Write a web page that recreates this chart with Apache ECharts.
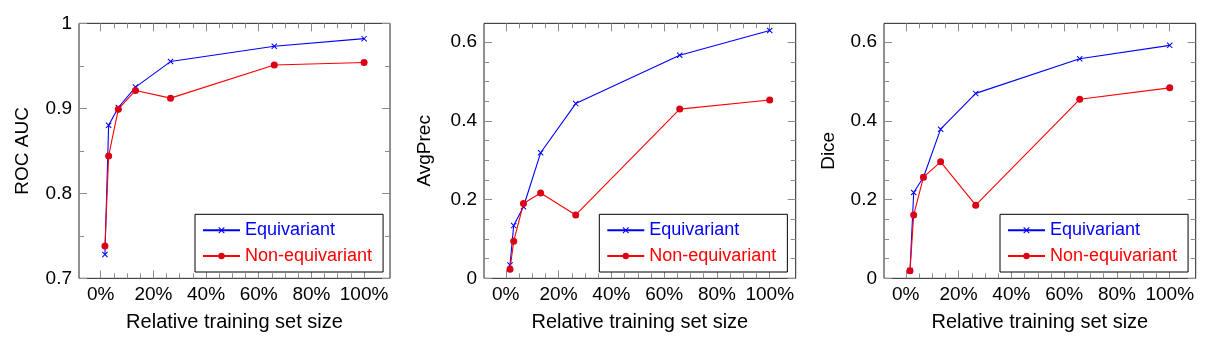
<!DOCTYPE html>
<html><head><meta charset="utf-8">
<script src="https://cdn.jsdelivr.net/npm/echarts@6/dist/echarts.min.js"></script>
<style>html,body{margin:0;padding:0;background:#fff}#c{width:1214px;height:346px}</style>
</head><body><div id="c"></div>
<script>
// ---- data ----
const trainingSizePct = [1.6, 3.0, 6.7, 13.2, 26.5, 65.9, 100];
const seriesNames = ['Equivariant', 'Non-equivariant'];
const yTitles = ['ROC AUC', 'AvgPrec', 'Dice'];

const rocEquivariant    = [0.728, 0.880, 0.901, 0.925, 0.955, 0.973, 0.982];
const rocNonEquivariant = [0.738, 0.844, 0.899, 0.921, 0.912, 0.951, 0.954];
const apEquivariant     = [0.034, 0.134, 0.182, 0.319, 0.444, 0.567, 0.630];
const apNonEquivariant  = [0.023, 0.094, 0.190, 0.217, 0.161, 0.430, 0.453];
const diceEquivariant   = [0.020, 0.218, 0.257, 0.379, 0.470, 0.558, 0.592];
const diceNonEquivariant= [0.019, 0.161, 0.257, 0.296, 0.186, 0.455, 0.484];

const xTickLabels = [0, 20, 40, 60, 80, 100];
const xMinorTicks = [5, 10, 15, 25, 30, 35, 45, 50, 55, 65, 70, 75, 85, 90, 95];
const rocYTickLabels = [0.7, 0.8, 0.9, 1.0];
const rocYMinorTicks = [0.75, 0.85, 0.95];
const fracYTickLabels = [0, 0.2, 0.4, 0.6];
const fracYMinorTicks = [0.05, 0.1, 0.15, 0.25, 0.3, 0.35, 0.45, 0.5, 0.55];

// ---- layout / style ----
const FONT = '"Liberation Sans", Arial, Helvetica, sans-serif';
const BLUE = '#0000ff', RED = '#ff0000', RED_FILL = '#dc0014';
const TICK = '#8c8c8c';
const X_MIN = -8.25, X_MAX = 109.84;
const CROSS = 'path://M0,1.2L1.2,0L10,8.8L8.8,10ZM8.8,0L10,1.2L1.2,10L0,8.8Z';

const panels = [
  {eq: rocEquivariant, ne: rocNonEquivariant, yMin: 0.7, yMax: 1.0, yLab: rocYTickLabels, yMin2: rocYMinorTicks,
   left: 79, width: 311, nameGap: 47, legendLeft: 195},
  {eq: apEquivariant, ne: apNonEquivariant, yMin: 0, yMax: 0.648, yLab: fracYTickLabels, yMin2: fracYMinorTicks,
   left: 484, width: 311.7, nameGap: 50, legendLeft: 599.3},
  {eq: diceEquivariant, ne: diceNonEquivariant, yMin: 0, yMax: 0.648, yLab: fracYTickLabels, yMin2: fracYMinorTicks,
   left: 884, width: 311.7, nameGap: 46, legendLeft: 1000}
];

const grids = [], xAxes = [], yAxes = [], series = [], legends = [];
const fmtY = v => String(+(+v).toFixed(2));

panels.forEach((p, i) => {
  grids.push({left: p.left, top: 23.33, width: p.width, height: 255, show: true,
    borderColor: '#222', borderWidth: 1, backgroundColor: 'transparent', outerBoundsMode: 'none'});
  const xBase = {type: 'value', gridIndex: i, min: X_MIN, max: X_MAX, splitLine: {show: false},
    axisLine: {show: false, onZero: false}};
  const mkX = (pos, ticks, len, labels) => Object.assign({}, xBase, {
    position: pos,
    axisTick: {show: true, inside: true, length: len, customValues: ticks, lineStyle: {color: TICK, width: 1}},
    axisLabel: labels ? {show: true, customValues: xTickLabels, formatter: v => Math.round(v) + '%',
      margin: 7, color: '#000', fontSize: 19, fontFamily: FONT} : {show: false}
  });
  const xMain = mkX('bottom', xTickLabels, 8, true);
  xMain.name = 'Relative training set size';
  xMain.nameLocation = 'middle';
  xMain.nameGap = 34;
  xMain.nameMoveOverlap = false;
  xMain.nameTextStyle = {color: '#000', fontSize: 20, fontFamily: FONT};
  xAxes.push(xMain, mkX('bottom', xMinorTicks, 5, false), mkX('top', xTickLabels, 8, false), mkX('top', xMinorTicks, 5, false));

  const yBase = {type: 'value', gridIndex: i, min: p.yMin, max: p.yMax, splitLine: {show: false},
    axisLine: {show: false, onZero: false}};
  const mkY = (pos, ticks, len, labels) => Object.assign({}, yBase, {
    position: pos,
    axisTick: {show: true, inside: true, length: len, customValues: ticks, lineStyle: {color: TICK, width: 1}},
    axisLabel: labels ? {show: true, customValues: p.yLab, formatter: fmtY,
      margin: 7, color: '#000', fontSize: 19, fontFamily: FONT} : {show: false}
  });
  const yMain = mkY('left', p.yLab, 8, true);
  yMain.name = yTitles[i];
  yMain.nameLocation = 'middle';
  yMain.nameGap = p.nameGap;
  yMain.nameMoveOverlap = false;
  yMain.nameTextStyle = {color: '#000', fontSize: 19, fontFamily: FONT};
  yAxes.push(yMain, mkY('left', p.yMin2, 5, false), mkY('right', p.yLab, 8, false), mkY('right', p.yMin2, 5, false));

  series.push({
    name: seriesNames[0], type: 'line', xAxisIndex: i * 4, yAxisIndex: i * 4,
    data: trainingSizePct.map((x, k) => [x, p.eq[k]]),
    symbol: CROSS, symbolSize: 6, showSymbol: true,
    lineStyle: {color: BLUE, width: 1.1}, itemStyle: {color: BLUE}, z: 3
  }, {
    name: seriesNames[1], type: 'line', xAxisIndex: i * 4, yAxisIndex: i * 4,
    data: trainingSizePct.map((x, k) => [x, p.ne[k]]),
    symbol: 'circle', symbolSize: 7, showSymbol: true,
    lineStyle: {color: RED, width: 1.1}, itemStyle: {color: RED_FILL}, z: 4
  });

  legends.push({
    left: p.legendLeft, top: 214.3, orient: 'vertical', selectedMode: false,
    backgroundColor: '#fff', borderColor: '#000', borderWidth: 1,
    padding: [7, 11, 7, 7], itemWidth: 37, itemHeight: 8, itemGap: 7.7,
    textStyle: {fontSize: 18, fontFamily: FONT, lineHeight: 18},
    data: [{name: seriesNames[0], textStyle: {color: BLUE}}, {name: seriesNames[1], textStyle: {color: RED}}]
  });
});

const chart = echarts.init(document.getElementById('c'), null, {renderer: 'canvas'});
chart.setOption({animation: false, backgroundColor: '#fff', grid: grids, xAxis: xAxes, yAxis: yAxes,
  series: series, legend: legends});
</script></body></html>
